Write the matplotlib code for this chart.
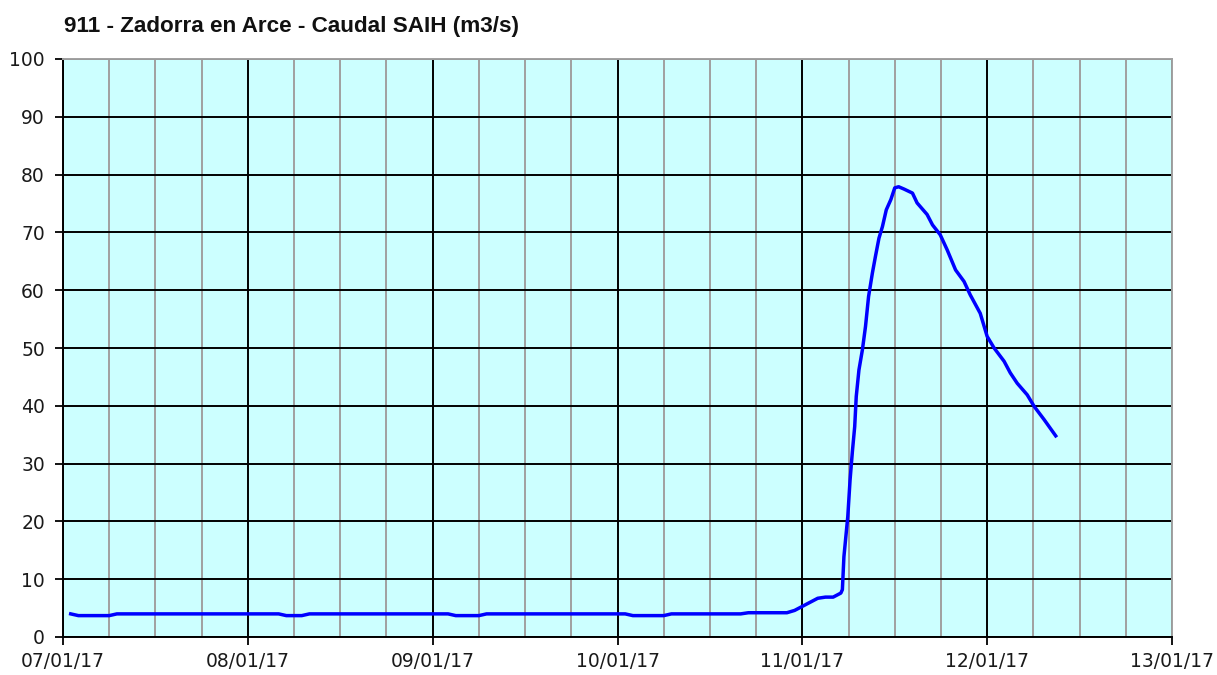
import matplotlib
matplotlib.use('Agg')
import matplotlib.pyplot as plt
import matplotlib.dates as mdates
import numpy as np
from datetime import datetime, timedelta

# Data: hours after 07/01/17 00:00 and flow in m3/s
hours = [1, 2, 6, 7, 28, 29, 31, 32, 50, 51, 54, 55, 73, 74, 78, 79, 88, 89, 94, 95,
         96, 97, 98, 99, 100, 101, 101.2, 101.4, 101.9, 102.2, 102.5, 102.8, 103.0,
         103.35, 103.8, 104.2, 104.6, 105.1, 105.5, 105.95, 106.4, 106.9, 107.5, 108.0,
         108.5, 109.2, 110.3, 110.9, 112.2, 112.9, 113.9, 114.8, 115.9, 117.0, 117.8,
         119.1, 120.0, 120.9, 122.2, 123.0, 123.9, 125.2, 126.1, 127.4, 128.9]
caudal = [4.0, 3.7, 3.7, 4.0, 4.0, 3.7, 3.7, 4.0, 4.0, 3.7, 3.7, 4.0, 4.0, 3.7, 3.7, 4.0,
          4.0, 4.2, 4.2, 4.6, 5.3, 6.0, 6.7, 6.9, 6.9, 7.6, 8.2, 13.9, 20.8, 27.2, 32.1,
          36.4, 41.6, 46.2, 49.7, 53.7, 58.9, 63.0, 65.9, 69.0, 71.0, 73.9, 75.7, 77.7,
          77.9, 77.5, 76.8, 75.1, 73.1, 71.3, 69.6, 67.0, 63.5, 61.5, 59.2, 56.0, 52.0,
          50.0, 47.7, 45.7, 43.9, 41.9, 39.9, 37.6, 34.8]

title = '911 - Zadorra en Arce - Caudal SAIH (m3/s)'
start = datetime(2017, 1, 7)
end = datetime(2017, 1, 13)
y_ticks = np.arange(0, 101, 10)

times = [start + timedelta(hours=h) for h in hours]

fig = plt.figure(figsize=(12.17, 6.75), dpi=100)
ax = fig.add_axes([63 / 1217, 38 / 675, (1172 - 63) / 1217, (637 - 59) / 675])
ax.set_facecolor('#ccffff')

# Grid: gray every 6 hours, black at each day and each 10 m3/s
ax.xaxis.set_major_locator(mdates.DayLocator())
ax.xaxis.set_minor_locator(mdates.HourLocator(byhour=[6, 12, 18]))
ax.xaxis.set_major_formatter(mdates.DateFormatter('%d/%m/%y'))
ax.grid(True, which='major', color='black', linewidth=1.4)
ax.grid(True, which='minor', axis='x', color='#a0a0a0', linewidth=1.4)
ax.set_axisbelow(True)

ax.plot(times, caudal, color='#0000ff', linewidth=2.5, zorder=3)

ax.set_xlim(start, end)
ax.set_ylim(0, 100)
ax.set_yticks(y_ticks)

ax.tick_params(axis='both', which='major', direction='out', length=6, width=1.3,
               labelsize=13.5, colors='black', labelcolor='#1a1a1a')
ax.tick_params(axis='x', which='minor', length=0)
ax.tick_params(axis='x', pad=5)
ax.tick_params(axis='y', pad=7)

for side in ['left', 'bottom']:
    ax.spines[side].set_color('black')
    ax.spines[side].set_linewidth(1.4)
for side in ['top', 'right']:
    ax.spines[side].set_color('#a0a0a0')
    ax.spines[side].set_linewidth(1.4)

fig.text(64 / 1217, 1 - 32 / 675, title, fontsize=16.2, fontweight='bold',
         family='Liberation Sans', va='baseline', ha='left', color='#111111')

fig.savefig('out.png', dpi=100, facecolor='white')
